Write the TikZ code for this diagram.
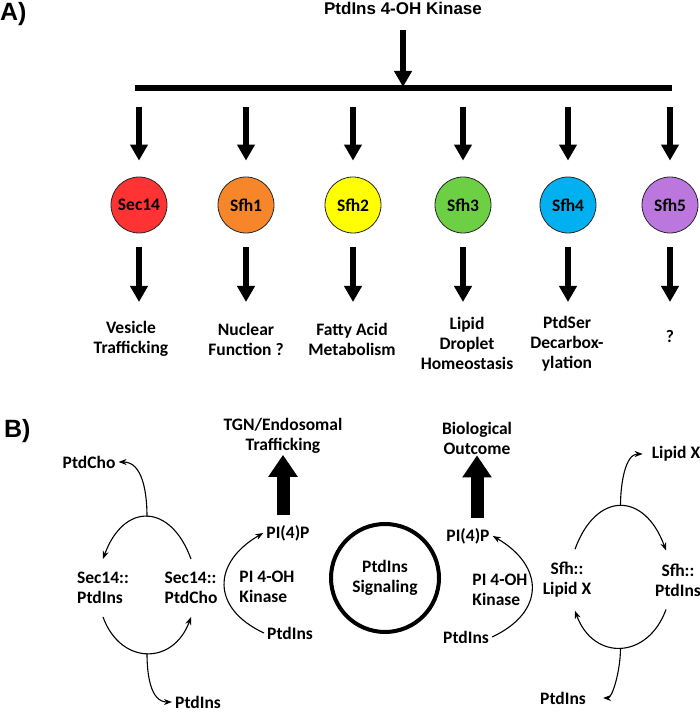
\documentclass[tikz,border=0pt]{standalone}
\usepackage{fontspec}
\setmainfont{Carlito}
\newfontfamily\headfont{Liberation Sans}
\usepackage{tikz}
\usetikzlibrary{arrows.meta}

\definecolor{secred}{RGB}{255,51,51}
\definecolor{sfhorange}{RGB}{247,134,42}
\definecolor{sfhyellow}{RGB}{255,255,0}
\definecolor{sfhgreen}{RGB}{108,207,68}
\definecolor{sfhblue}{RGB}{0,176,240}
\definecolor{sfhpurple}{RGB}{187,119,221}

\tikzset{
	txt/.style={font=\bfseries\fontsize{17.5}{20}\selectfont, align=center},
	head/.style={font=\headfont\bfseries\fontsize{#1}{30}\selectfont, inner sep=0pt},
	fat/.style={line width=5.5pt, -{Triangle[length=16pt,width=17pt]}},
	bigfat/.style={line width=13pt, -{Triangle[length=22pt,width=28pt]}},
	cyc/.style={line width=1.1pt, -{Stealth[length=8pt,width=6pt]}},
	sfhball/.style={circle, draw=black!85, line width=0.8pt, minimum size=56pt, inner sep=0pt, txt},
	lipid/.style={txt, inner sep=3pt},
	cplx/.style={txt, inner xsep=2pt, inner ysep=13pt}
}

\begin{document}
\begin{tikzpicture}[x=1pt,y=1pt]
			\useasboundingbox (0,0) rectangle (700,712);

			\node[head=25, anchor=base west] (pa) at (0,691) {A)};
			\node[head=17, anchor=base] (kin) at (403,697) {PtdIns 4-OH Kinase};
			\coordinate (barl) at (135,624);
			\coordinate (barr) at (672,624);
			\coordinate (tips) at (0,410);
			\draw[line width=6pt] (barl) -- (barr);
			\draw[fat, shorten <=15pt, shorten >=1pt] (kin) -- (kin |- barl);

			\node[sfhball, fill=secred] (sec) at (139,507) {Sec14};
			\node[sfhball, fill=sfhorange] (sfh1) at (246,507) {Sfh1};
			\node[sfhball, fill=sfhyellow] (sfh2) at (353,507) {Sfh2};
			\node[sfhball, fill=sfhgreen] (sfh3) at (463,507) {Sfh3};
			\node[sfhball, fill=sfhblue] (sfh4) at (568,507) {Sfh4};
			\node[sfhball, fill=sfhpurple] (sfh5) at (670,507) {Sfh5};

			\foreach \c in {sec,sfh1,sfh2,sfh3,sfh4,sfh5} {
				\draw[fat, shorten <=19pt, shorten >=16pt] (\c |- barl) -- (\c);
				\draw[fat, shorten <=14pt] (\c) -- (\c |- tips);
			}

			\node[txt] (ves) at (131,373) {Vesicle\\Trafficking};
			\node[txt] (nuc) at (246,373) {Nuclear\\Function ?};
			\node[txt] (fat) at (352,373) {Fatty Acid\\Metabolism};
			\node[txt] (drop) at (467,369) {Lipid\\Droplet\\Homeostasis};
			\node[txt] (dec) at (567,368) {PtdSer\\Decarbox-\\ylation};
			\node[txt] (unk) at (670,375) {?};

			\node[head=25, anchor=base west] (pb) at (4,274) {B)};

			\node[txt, inner sep=1pt] (tgn) at (283,276) {TGN/Endosomal\\Trafficking};
			\node[lipid] (pip1) at (288,179) {PI(4)P};
			\node[txt, align=left] (kin1) at (267,125) {PI 4-OH\\Kinase};
			\node[lipid] (pti1) at (290,79) {PtdIns};
			\draw[bigfat, shorten <=7pt] (tgn |- pip1.north) -- (tgn.south);
			\draw[cyc] (pti1.west) to[out=155,in=210,looseness=1.5] (pip1.west);

			\node[txt, circle, draw, line width=4pt, minimum size=108pt] (sig) at (385,134) {PtdIns\\Signaling};

			\node[txt, inner sep=1pt] (bio) at (477,274) {Biological\\Outcome};
			\node[lipid] (pip2) at (468,176) {PI(4)P};
			\node[txt, align=left] (kin2) at (500,122) {PI 4-OH\\Kinase};
			\node[lipid] (pti2) at (466,75) {PtdIns};
			\draw[bigfat, shorten <=7pt] (bio |- pip2.north) -- (bio.south);
			\draw[cyc] (pti2.east) to[out=25,in=-30,looseness=1.5] (pip2.east);

			\node[cplx, align=left] (spi) at (103,124) {Sec14::\\PtdIns};
			\node[cplx, align=left] (spc) at (191,124) {Sec14::\\PtdCho};
			\node[lipid] (ptc) at (89,250) {PtdCho};
			\node[lipid] (pib1) at (198,10) {PtdIns};
			\draw[cyc] (spc.north) to[out=110,in=70,looseness=1.75] coordinate[pos=.5] (lt) (spi.north);
			\draw[cyc] (spi.south) to[out=-70,in=-110,looseness=1.5] coordinate[pos=.5] (lb) (spc.south);
			\draw[cyc] (lt) to[out=90,in=0] (ptc.east);
			\draw[cyc] (lb) to[out=-90,in=180] (pib1.west);

			\node[cplx] (slx) at (567,132) {Sfh::\\Lipid X};
			\node[cplx] (sfp) at (678,132) {Sfh::\\PtdIns};
			\node[lipid] (lx) at (676,258) {Lipid X};
			\node[lipid] (pib2) at (563,14) {PtdIns};
			\draw[cyc] ([xshift=8pt]slx.north) to[out=70,in=110,looseness=1.75] coordinate[pos=.5] (rt) ([xshift=-12pt]sfp.north);
			\draw[cyc] ([xshift=-12pt]sfp.south) to[out=-110,in=-70,looseness=1.5] coordinate[pos=.5] (rb) ([xshift=8pt]slx.south);
			\draw[cyc, shorten >=6pt] (rt) to[out=90,in=180] (lx.west);
			\draw[cyc, shorten >=14pt] (rb) to[out=-90,in=0] (pib2.east);
		\end{tikzpicture}
\end{document}
